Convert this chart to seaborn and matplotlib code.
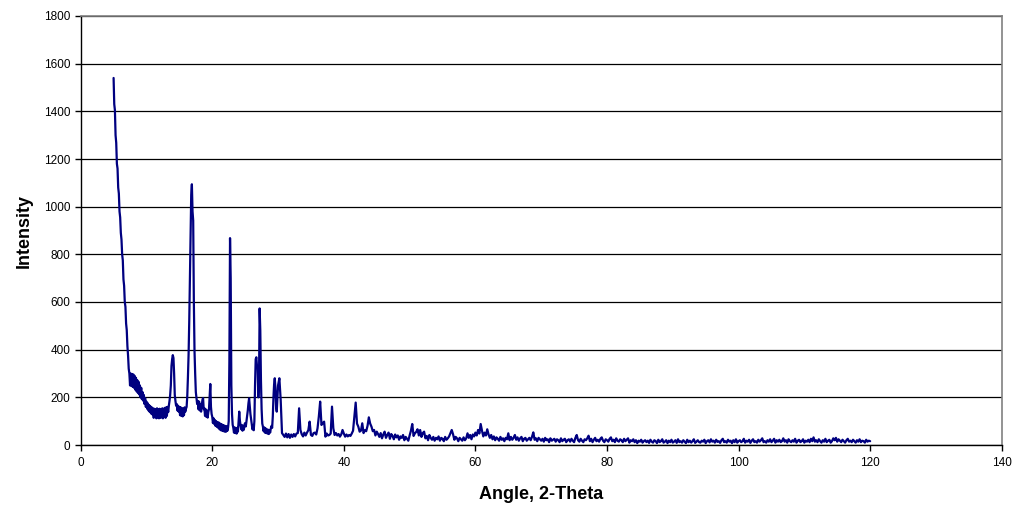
import numpy as np
import pandas as pd
import matplotlib
matplotlib.use("Agg")
import matplotlib.pyplot as plt
import seaborn as sns

# Powder diffraction scan, stored in three blocks with their own step sizes.
# Block A: 5.0 - 30.0 deg, step 0.1
scan_a_start, scan_a_step = 5.0, 0.1
scan_a_counts = [
    1540, 1430, 1405, 1300, 1268, 1180, 1160, 1080, 1055, 980,
    955, 890, 862, 800, 775, 695, 668, 600, 580, 510,
    482, 415, 375, 320, 300, 250, 300, 248, 298, 244,
    296, 240, 290, 232, 282, 225, 272, 218, 265, 212,
    250, 200, 240, 192, 222, 186, 210, 172, 196, 160,
    182, 152, 175, 145, 168, 138, 162, 132, 158, 128,
    154, 114, 152, 118, 150, 112, 154, 116, 150, 112,
    152, 114, 150, 116, 154, 112, 152, 118, 156, 114,
    158, 122, 160, 138, 165, 185, 210, 250, 332, 360,
    377, 365, 300, 210, 185, 165, 172, 145, 165, 140,
    160, 125, 158, 122, 155, 120, 152, 125, 158, 140,
    152, 160, 205, 285, 380, 520, 705, 880, 1050, 1094,
    980, 942, 600, 395, 300, 222, 195, 172, 185, 150,
    182, 145, 170, 140, 165, 189, 197, 150, 155, 122,
    150, 118, 145, 115, 138, 150, 205, 256, 160, 130,
    118, 92, 112, 88, 105, 80, 100, 76, 96, 72,
    94, 66, 90, 62, 88, 60, 84, 58, 82, 56,
    80, 56, 78, 60, 72, 100, 350, 868, 700, 250,
    130, 85, 72, 52, 74, 50, 70, 48, 72, 56,
    100, 140, 102, 82, 66, 84, 60, 80, 64, 86,
    92, 78, 100, 120, 145, 175, 196, 160, 130, 110,
    88, 66, 84, 62, 100, 250, 360, 368, 330, 328,
    200, 262, 573, 480, 272, 150, 90, 77, 58, 74,
    52, 70, 50, 66, 48, 64, 46, 62, 52, 70,
    80, 72, 120, 200, 255, 280, 240, 161, 140, 200,
    250,
]

# Block B: 30.2 - 60.0 deg, step 0.2
scan_b_start, scan_b_step = 30.2, 0.2
scan_b_counts = [
    280, 189, 50, 42, 34, 48, 32, 46, 30, 44,
    34, 46, 36, 48, 50, 154, 63, 45, 36, 52,
    40, 52, 62, 98, 42, 38, 50, 52, 44, 70,
    120, 182, 84, 92, 98, 35, 48, 40, 42, 48,
    161, 70, 42, 50, 40, 46, 35, 44, 63, 48,
    35, 44, 36, 42, 38, 48, 60, 120, 178, 90,
    77, 56, 60, 91, 50, 62, 58, 80, 116, 90,
    77, 58, 63, 40, 56, 46, 34, 50, 28, 44,
    56, 30, 42, 52, 26, 46, 38, 24, 44, 32,
    40, 22, 36, 30, 42, 20, 34, 26, 18, 40,
    60, 88, 38, 49, 55, 66, 40, 63, 34, 50,
    56, 28, 38, 20, 42, 30, 22, 34, 18, 30,
    24, 36, 18, 30, 26, 16, 34, 22, 28, 36,
    50, 63, 45, 22, 34, 28, 16, 30, 24, 18,
    32, 20, 28, 49, 30, 42, 24, 44, 36, 52,
]

# Block C: 60.2 - 120.0 deg, step 0.2
scan_c_start, scan_c_step = 60.2, 0.2
scan_c_counts = [
    40, 63, 48, 88, 60, 36, 52, 40, 66, 44,
    30, 42, 24, 36, 20, 32, 26, 18, 34, 22,
    28, 16, 30, 24, 49, 20, 34, 22, 30, 42,
    22, 32, 18, 28, 34, 16, 26, 30, 18, 24,
    30, 20, 34, 53, 22, 28, 16, 30, 24, 18,
    26, 14, 30, 20, 24, 12, 28, 18, 22, 26,
    14, 24, 20, 12, 28, 16, 22, 26, 12, 20,
    24, 14, 26, 18, 12, 30, 42, 20, 14, 26,
    18, 12, 24, 20, 28, 39, 16, 26, 12, 22,
    30, 16, 22, 14, 26, 32, 18, 12, 24, 20,
    14, 26, 32, 16, 22, 12, 28, 18, 14, 24,
    20, 12, 26, 16, 22, 28, 10, 20, 16, 24,
    12, 20, 8, 18, 14, 22, 10, 16, 20, 12,
    18, 9, 22, 14, 10, 20, 16, 8, 22, 12,
    16, 24, 10, 14, 20, 8, 18, 12, 22, 10,
    14, 20, 9, 24, 12, 16, 10, 20, 14, 8,
    22, 12, 18, 10, 16, 24, 9, 14, 20, 12,
    10, 18, 14, 22, 8, 16, 20, 11, 24, 14,
    18, 10, 22, 13, 16, 9, 20, 26, 12, 16,
    10, 22, 14, 18, 8, 20, 12, 24, 10, 16,
    20, 12, 16, 26, 10, 18, 14, 22, 9, 18,
    24, 12, 16, 10, 22, 14, 20, 28, 12, 16,
    10, 20, 14, 24, 12, 18, 26, 10, 20, 14,
    22, 12, 16, 28, 14, 20, 10, 24, 16, 12,
    20, 14, 26, 10, 18, 22, 12, 16, 24, 10,
    18, 14, 22, 12, 26, 16, 32, 14, 20, 12,
    24, 16, 10, 20, 14, 26, 12, 18, 22, 10,
    16, 28, 20, 30, 14, 24, 18, 12, 22, 16,
    10, 20, 26, 14, 18, 12, 22, 16, 10, 20,
    14, 24, 12, 18, 16, 10, 22, 14, 18, 16,
]

x_ticks = [0, 20, 40, 60, 80, 100, 120, 140]
y_ticks = [0, 200, 400, 600, 800, 1000, 1200, 1400, 1600, 1800]
x_label = "Angle, 2-Theta"
y_label = "Intensity"


def block_angles(start, step, n):
    return np.round(start + step * np.arange(n), 2)


angles = np.concatenate([
    block_angles(scan_a_start, scan_a_step, len(scan_a_counts)),
    block_angles(scan_b_start, scan_b_step, len(scan_b_counts)),
    block_angles(scan_c_start, scan_c_step, len(scan_c_counts)),
])
counts = np.concatenate([scan_a_counts, scan_b_counts, scan_c_counts])
df = pd.DataFrame({"angle": angles, "intensity": counts})

sns.set_theme(style="white")
plt.rcParams["font.family"] = ["Liberation Sans", "DejaVu Sans"]

fig = plt.figure(figsize=(10.16, 5.08), dpi=100)
ax = fig.add_axes([80.7 / 1016, 1 - 445 / 508, 921 / 1016, 429 / 508])

sns.lineplot(data=df, x="angle", y="intensity", ax=ax, color="#000080",
             linewidth=1.6, estimator=None, sort=False)

ax.set_xlim(0, 140)
ax.set_ylim(0, 1800)
ax.set_xticks(x_ticks)
ax.set_yticks(y_ticks)
ax.set_axisbelow(True)
ax.yaxis.grid(True, color="#000000", linewidth=0.9)
ax.xaxis.grid(False)

for side in ("left", "bottom"):
    ax.spines[side].set_color("#000000")
    ax.spines[side].set_linewidth(1.0)
for side in ("top", "right"):
    ax.spines[side].set_color("#808080")
    ax.spines[side].set_linewidth(1.2)

ax.tick_params(axis="both", direction="out", length=4, width=1.0,
               color="#000000", labelsize=8.5, labelcolor="#000000")
ax.tick_params(axis="x", pad=5)
ax.tick_params(axis="y", pad=3.5)
ax.tick_params(left=True, bottom=True)

ax.set_xlabel(x_label, fontsize=13, fontweight="bold", labelpad=12, color="#000000")
ax.set_ylabel(y_label, fontsize=13, fontweight="bold", labelpad=8, color="#000000")

fig.savefig("out.png", dpi=100, facecolor="white")
